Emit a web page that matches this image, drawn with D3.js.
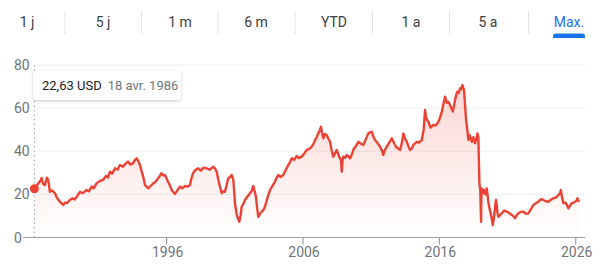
<!DOCTYPE html>
<html><head><meta charset="utf-8">
<script src="https://cdn.jsdelivr.net/npm/d3@7"></script>
<style>
html,body{margin:0;padding:0;background:#fff;}
svg{display:block;font-family:Roboto,"Noto Sans",Arial,sans-serif;}
</style></head>
<body>
<svg id="chart" width="600" height="271"></svg>
<script>
// ---- data ----
const ranges = ["1 j","5 j","1 m","6 m","YTD","1 a","5 a","Max."];
const activeRange = "Max.";
const yTicks = [0,20,40,60,80];
const xTickYears = [1996,2006,2016,2026];
const tooltipPrice = "22,63 USD";
const tooltipDate = "18 avr. 1986";

// decimal years and closing prices (USD)
const years = [
1986.30,1986.55,1986.70,1986.83,1986.95,1987.07,1987.15,1987.22,1987.31,1987.38,1987.44,1987.60,1987.80,1987.95,
1988.17,1988.30,1988.41,1988.55,1988.70,1988.90,1989.10,1989.25,1989.40,1989.52,1989.64,1989.85,1990.13,1990.30,
1990.50,1990.65,1990.86,1991.10,1991.33,1991.55,1991.70,1991.84,1992.00,1992.21,1992.40,1992.57,1992.79,1992.95,
1993.16,1993.35,1993.53,1993.65,1993.80,1993.92,1994.04,1994.15,1994.28,1994.41,1994.55,1994.65,1994.85,1995.02,
1995.20,1995.38,1995.50,1995.63,1995.75,1995.88,1996.10,1996.25,1996.37,1996.50,1996.61,1996.80,1996.98,1997.15,
1997.34,1997.55,1997.71,1997.80,1997.93,1998.10,1998.30,1998.50,1998.70,1998.93,1999.15,1999.40,1999.55,1999.67,
1999.80,1999.91,2000.04,2000.15,2000.28,2000.40,2000.52,2000.65,2000.77,2000.89,2001.01,2001.08,2001.14,2001.25,
2001.33,2001.42,2001.50,2001.62,2001.74,2001.90,2002.11,2002.25,2002.35,2002.45,2002.55,2002.63,2002.72,2002.85,
2002.97,2003.10,2003.21,2003.40,2003.58,2003.75,2003.95,2004.05,2004.19,2004.35,2004.55,2004.75,2004.92,2005.05,
2005.17,2005.35,2005.54,2005.70,2005.90,2006.10,2006.27,2006.45,2006.64,2006.78,2006.88,2007.00,2007.12,2007.22,
2007.32,2007.40,2007.49,2007.60,2007.74,2007.85,2007.98,2008.10,2008.22,2008.35,2008.47,2008.60,2008.71,2008.80,
2008.84,2008.90,2008.96,2009.10,2009.21,2009.35,2009.45,2009.58,2009.69,2009.88,2010.06,2010.25,2010.42,2010.60,
2010.79,2010.92,2011.04,2011.15,2011.28,2011.45,2011.65,2011.78,2011.89,2012.00,2012.14,2012.30,2012.51,2012.62,
2012.75,2012.85,2012.97,2013.12,2013.25,2013.36,2013.50,2013.61,2013.75,2013.85,2014.00,2014.09,2014.20,2014.34,
2014.50,2014.71,2014.85,2014.95,2015.05,2015.19,2015.35,2015.56,2015.75,2015.93,2016.05,2016.18,2016.30,2016.42,
2016.55,2016.65,2016.78,2016.98,2017.05,2017.15,2017.25,2017.32,2017.42,2017.52,2017.60,2017.69,2017.81,2017.90,
2017.96,2018.05,2018.13,2018.22,2018.30,2018.38,2018.50,2018.62,2018.72,2018.79,2018.86,2018.90,2018.94,2019.00,
2019.04,2019.06,2019.08,2019.11,2019.20,2019.28,2019.38,2019.48,2019.59,2019.68,2019.77,2019.85,2019.92,2020.00,
2020.09,2020.15,2020.21,2020.27,2020.33,2020.45,2020.58,2020.75,2020.94,2021.10,2021.31,2021.45,2021.55,2021.68,
2021.80,2021.95,2022.16,2022.35,2022.53,2022.70,2022.90,2023.10,2023.26,2023.45,2023.63,2023.80,2024.00,2024.18,
2024.36,2024.55,2024.73,2024.85,2024.91,2025.00,2025.10,2025.25,2025.35,2025.46,2025.60,2025.71,2025.85,2025.96,
2026.05,2026.13,2026.20,2026.27];
const prices = [
22.63,24.8,25.9,27.6,24.8,24.3,26.2,27.7,26.7,24.0,21.2,21.8,20.6,18.5,
16.6,15.8,15.1,16.2,16.0,17.4,18.2,17.6,18.9,20.0,21.2,20.6,22.0,21.4,
23.6,22.8,25.1,26.2,26.7,28.5,27.8,30.5,29.6,32.1,31.5,33.6,32.8,34.0,
35.2,33.8,34.4,35.8,36.7,35.4,33.6,31.0,28.2,24.3,23.5,22.8,24.0,25.1,
26.0,27.5,28.6,29.8,28.8,29.0,25.9,24.0,22.0,21.0,20.2,22.0,23.6,22.8,
23.9,23.6,24.3,27.0,29.8,31.2,32.1,31.0,32.4,32.1,31.4,32.8,32.0,30.5,
26.5,23.6,20.5,21.4,21.2,24.5,27.5,28.0,29.0,26.7,15.9,13.0,10.4,8.5,
7.3,10.2,14.3,15.5,17.4,18.8,20.5,21.8,23.9,21.5,18.9,14.0,9.6,11.0,
12.0,12.8,14.3,18.5,22.0,23.8,25.9,27.5,29.0,28.0,29.0,31.5,33.6,35.0,
36.7,36.0,37.8,36.8,37.5,39.0,40.6,41.0,42.1,43.5,45.2,46.5,48.3,49.5,
51.4,48.5,46.0,48.0,47.5,46.0,44.4,40.5,37.5,39.0,40.6,38.5,36.7,35.5,
30.5,36.0,37.5,37.0,38.3,37.5,36.7,38.5,40.6,42.5,44.4,43.5,42.9,45.5,
48.3,48.8,49.1,47.0,45.2,44.0,42.1,40.5,38.3,40.5,42.1,43.8,46.0,44.5,
42.9,41.8,41.4,40.6,44.0,48.3,45.5,44.4,42.0,40.6,41.5,42.9,43.5,44.4,
44.0,45.2,50.0,59.1,55.0,53.7,51.0,52.2,52.0,53.7,55.5,58.4,62.0,65.3,
62.5,63.0,61.5,58.4,60.5,63.8,66.5,67.6,67.0,69.2,68.8,70.7,68.4,60.0,
54.5,50.0,45.2,47.5,46.0,44.4,46.5,43.7,46.0,48.3,46.8,35.0,25.1,22.0,
12.0,7.3,18.0,22.8,20.5,22.0,20.0,22.8,16.6,13.5,11.2,8.5,5.8,9.0,
14.3,17.4,15.0,11.0,9.6,10.5,11.2,12.5,12.0,11.5,10.4,9.8,8.9,10.5,
11.2,11.8,12.0,11.0,11.2,13.0,15.1,16.0,16.6,17.8,17.4,16.8,16.6,17.5,
18.2,18.5,19.7,20.5,22.0,18.5,15.9,16.2,15.1,13.5,15.0,15.9,16.2,16.6,
17.0,18.2,17.0,16.6];

// ---- helpers ----
function yearToDate(yv){
  const yr = Math.floor(yv);
  const start = new Date(yr,0,1), end = new Date(yr+1,0,1);
  return new Date(start.getTime() + (yv-yr)*(end-start));
}
const data = years.map((yv,i)=>({date:yearToDate(yv), value:prices[i]}));

const svg = d3.select("#chart");
const RED = "#ea4335";

// ---- range buttons ----
const btnCenters = [27,103,180,256,334,411,488,569];
const topBar = svg.append("g");
ranges.forEach((r,i)=>{
  const cx = btnCenters[i];
  topBar.append("text").attr("x",cx).attr("y",27).attr("text-anchor","middle")
    .attr("font-size",14).attr("fill", r===activeRange ? "#1a73e8" : "#3c4043")
    .text(r);
  if(i>0){
    const sx = (btnCenters[i-1]+btnCenters[i])/2;
    topBar.append("line").attr("x1",sx).attr("x2",sx).attr("y1",11).attr("y2",34)
      .attr("stroke","#e3e5e8").attr("stroke-width",1);
  }
  if(r===activeRange){
    topBar.append("path")
      .attr("d", `M${cx-16},38 v-1.5 a3,3 0 0 1 3,-3 h26 a3,3 0 0 1 3,3 v1.5 z`)
      .attr("fill","#1a73e8");
  }
});

// ---- scales ----
const x = d3.scaleTime().domain(d3.extent(data,d=>d.date)).range([34.4,579.4]);
const y = d3.scaleLinear().domain([0,80]).range([237.5,65]);

// gridlines
svg.append("g").selectAll("line").data(yTicks.filter(t=>t>0)).join("line")
  .attr("x1",35).attr("x2",585).attr("y1",d=>y(d)).attr("y2",d=>y(d))
  .attr("stroke","#eef0f2").attr("stroke-width",1);

// y labels
svg.append("g").selectAll("text").data(yTicks).join("text")
  .attr("x",14).attr("y",d=>y(d)).attr("dy","0.36em")
  .attr("font-size",14).attr("fill","#70757a").text(d=>d);

// area gradient
const defs = svg.append("defs");
const grad = defs.append("linearGradient").attr("id","ag")
  .attr("gradientUnits","userSpaceOnUse").attr("x1",0).attr("x2",0)
  .attr("y1",y(72)).attr("y2",y(0));
grad.append("stop").attr("offset","0%").attr("stop-color",RED).attr("stop-opacity",0.22);
grad.append("stop").attr("offset","100%").attr("stop-color",RED).attr("stop-opacity",0.0);

const shadow = defs.append("filter").attr("id","sh").attr("x","-20%").attr("y","-40%").attr("width","140%").attr("height","180%");
shadow.append("feDropShadow").attr("dx",0).attr("dy",1).attr("stdDeviation",1.5)
  .attr("flood-color","#3c4043").attr("flood-opacity",0.3);

svg.append("path").datum(data)
  .attr("d", d3.area().x(d=>x(d.date)).y0(y(0)).y1(d=>y(d.value)))
  .attr("fill","url(#ag)");

// x axis line + ticks
svg.append("line").attr("x1",23).attr("x2",585).attr("y1",y(0)).attr("y2",y(0))
  .attr("stroke","#9aa0a6").attr("stroke-width",1.2);
const xt = xTickYears.map(v=>new Date(v,0,1));
svg.append("g").selectAll("line").data(xt).join("line")
  .attr("x1",d=>x(d)).attr("x2",d=>x(d)).attr("y1",y(0)).attr("y2",y(0)+7)
  .attr("stroke","#9aa0a6").attr("stroke-width",1.2);
svg.append("g").selectAll("text").data(xt).join("text")
  .attr("x",d=>x(d)+1).attr("y",257).attr("text-anchor","middle")
  .attr("font-size",14).attr("fill","#70757a").text(d=>d.getFullYear());

// hover dotted line
svg.append("line").attr("x1",x(data[0].date)).attr("x2",x(data[0].date))
  .attr("y1",y(80)).attr("y2",y(0))
  .attr("stroke","#9aa0a6").attr("stroke-width",1).attr("stroke-dasharray","1.5,3");

// price line
svg.append("path").datum(data)
  .attr("d", d3.line().x(d=>x(d.date)).y(d=>y(d.value)))
  .attr("fill","none").attr("stroke",RED).attr("stroke-width",2.4).attr("stroke-linejoin","round");

// hover dot
svg.append("circle").attr("cx",x(data[0].date)).attr("cy",y(data[0].value)).attr("r",4.5).attr("fill",RED);

// tooltip
const tt = svg.append("g");
tt.append("rect").attr("x",33).attr("y",71).attr("width",148).attr("height",29).attr("rx",4)
  .attr("fill","#fff").attr("filter","url(#sh)");
const tx = tt.append("text").attr("x",42).attr("y",90).attr("font-size",13);
tx.append("tspan").attr("fill","#202124").text(tooltipPrice);
tx.append("tspan").attr("dx",6).attr("fill","#70757a").text(tooltipDate);
</script>
</body></html>
